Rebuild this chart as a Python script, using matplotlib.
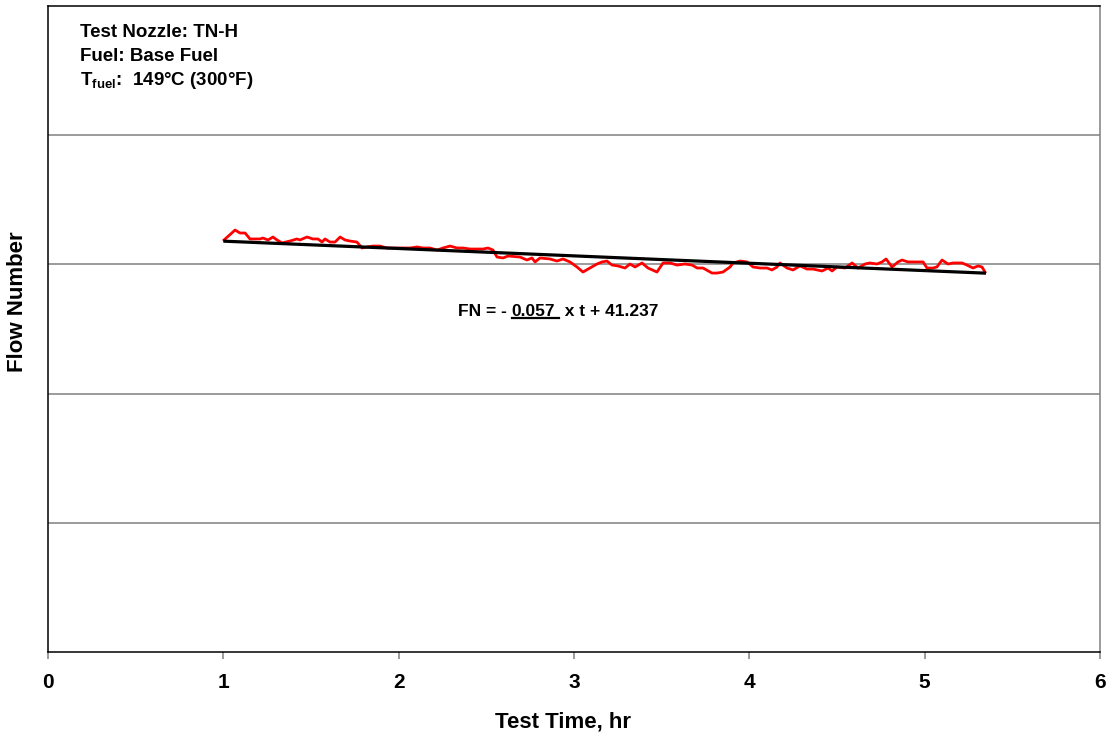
import matplotlib
matplotlib.use("Agg")
import matplotlib.pyplot as plt
from matplotlib.lines import Line2D

plt.rcParams["font.family"] = ["Liberation Sans", "DejaVu Sans"]
plt.rcParams["font.weight"] = "bold"
plt.rcParams["mathtext.fontset"] = "custom"
plt.rcParams["mathtext.bf"] = "Liberation Sans:bold"
plt.rcParams["mathtext.rm"] = "Liberation Sans:bold"

# Measured flow number vs. test time
time_hr = [1.004, 1.067, 1.095, 1.124, 1.152, 1.209, 1.226, 1.255, 1.283, 1.306,
           1.335, 1.380, 1.420, 1.437, 1.477, 1.511, 1.540, 1.563, 1.580, 1.608,
           1.637, 1.666, 1.694, 1.722, 1.762, 1.791, 1.819, 1.854, 1.894, 1.933,
           1.991, 2.065, 2.105, 2.139, 2.179, 2.219, 2.253, 2.293, 2.333, 2.367,
           2.407, 2.447, 2.481, 2.510, 2.538, 2.561, 2.595, 2.624, 2.692, 2.732,
           2.760, 2.778, 2.806, 2.863, 2.903, 2.937, 2.977, 3.017, 3.051, 3.091,
           3.131, 3.160, 3.188, 3.217, 3.251, 3.291, 3.319, 3.348, 3.388, 3.422,
           3.473, 3.508, 3.548, 3.588, 3.633, 3.673, 3.702, 3.736, 3.787, 3.816,
           3.850, 3.890, 3.907, 3.947, 3.987, 4.021, 4.061, 4.101, 4.129, 4.158,
           4.175, 4.215, 4.249, 4.289, 4.329, 4.363, 4.415, 4.449, 4.472, 4.500,
           4.546, 4.586, 4.620, 4.660, 4.688, 4.728, 4.757, 4.780, 4.814, 4.848,
           4.871, 4.905, 4.934, 4.973, 4.991, 5.013, 5.047, 5.070, 5.099, 5.133,
           5.162, 5.213, 5.241, 5.276, 5.304, 5.327, 5.344]
flow_number = [41.189, 41.266, 41.243, 41.243, 41.197, 41.197, 41.204, 41.189, 41.212, 41.189,
               41.166, 41.181, 41.197, 41.189, 41.212, 41.197, 41.197, 41.173, 41.197, 41.173,
               41.173, 41.212, 41.189, 41.181, 41.173, 41.127, 41.135, 41.142, 41.142, 41.127,
               41.127, 41.127, 41.135, 41.127, 41.127, 41.111, 41.127, 41.142, 41.127, 41.127,
               41.119, 41.119, 41.119, 41.127, 41.111, 41.057, 41.050, 41.065, 41.057, 41.034,
               41.050, 41.019, 41.050, 41.042, 41.026, 41.042, 41.019, 40.980, 40.941, 40.972,
               41.003, 41.019, 41.026, 40.995, 40.988, 40.972, 41.003, 40.980, 41.011, 40.972,
               40.941, 41.011, 41.011, 40.995, 41.003, 40.995, 40.972, 40.972, 40.933, 40.933,
               40.941, 40.980, 41.011, 41.026, 41.019, 40.980, 40.972, 40.972, 40.957, 40.980,
               41.011, 40.972, 40.957, 40.988, 40.964, 40.964, 40.949, 40.972, 40.949, 40.980,
               40.972, 41.011, 40.972, 41.003, 41.011, 41.003, 41.019, 41.042, 40.980, 41.019,
               41.034, 41.019, 41.019, 41.019, 41.019, 40.972, 40.972, 40.980, 41.034, 41.003,
               41.011, 41.011, 40.995, 40.972, 40.988, 40.980, 40.941]

# Linear fit: FN = slope * t + intercept
fit_slope = -0.057
fit_intercept = 41.237
fit_range = [1.0, 5.35]

x_ticks = [0, 1, 2, 3, 4, 5, 6]
y_grid = [39, 40, 41, 42]

W, H = 1114, 742
fig = plt.figure(figsize=(W / 100, H / 100), dpi=100)
ax = fig.add_axes([48 / W, 1 - 652 / H, (1100 - 48) / W, (652 - 6) / H])
ax.set_xlim(0, 6)
ax.set_ylim(38, 43)

for g in y_grid:
    ax.axhline(g, color="#808080", lw=1.1, zorder=1)

ax.plot(time_hr, flow_number, color="#ff0000", lw=2.0, zorder=2)
fit_y = [fit_slope * t + fit_intercept for t in fit_range]
ax.plot(fit_range, fit_y, color="black", lw=2.3, zorder=3, solid_capstyle="butt")

ax.set_xticks(x_ticks)
ax.set_xticklabels([str(v) for v in x_ticks], fontsize=15, fontweight="bold")
ax.set_yticks([])
ax.tick_params(axis="x", direction="out", length=5, width=1.1, color="#808080", pad=10)
for side in ["left", "top", "bottom"]:
    ax.spines[side].set_color("black")
    ax.spines[side].set_linewidth(1.1)
ax.spines["right"].set_color("#808080")
ax.spines["right"].set_linewidth(1.1)

# Axis titles
fig.text(563 / W, 1 - 722 / H, "Test Time, hr", fontsize=16, fontweight="bold",
         ha="center", va="center")
fig.text(18 / W, 1 - 302 / H, "Flow Number", fontsize=16, fontweight="bold",
         ha="center", va="center", rotation=90)

# Test condition notes
note_kw = dict(transform=ax.transAxes, fontsize=13.5, fontweight="bold", va="baseline", ha="left")
ax.text(0.030, 0.9515, "Test Nozzle: TN-H", **note_kw)
ax.text(0.030, 0.9155, "Fuel: Base Fuel", **note_kw)
ax.text(0.030, 0.877, r"T$_{\mathbf{fuel}}$:  149°C (300°F)", **note_kw)

# Fit equation with the slope underlined
eq_kw = dict(fontsize=12.5, fontweight="bold", va="baseline")
eq_t, eq_fn = 2.337, 40.598
fig.canvas.draw()
renderer = fig.canvas.get_renderer()
part1 = ax.text(eq_t, eq_fn, "FN = - ", ha="left", **eq_kw)
bb1 = part1.get_window_extent(renderer)
x1 = ax.transData.inverted().transform((bb1.x1, bb1.y0))[0]
part2 = ax.text(x1, eq_fn, "0.057", ha="left", **eq_kw)
bb2 = part2.get_window_extent(renderer)
x2 = ax.transData.inverted().transform((bb2.x1, bb2.y0))[0]
part3 = ax.text(x2, eq_fn, "  x t + 41.237", ha="left", **eq_kw)
ul_y = bb2.y0 + 1
line_start = ax.transData.inverted().transform((bb2.x0, ul_y))
line_end = ax.transData.inverted().transform((bb2.x1 + 4, ul_y))
ax.add_line(Line2D([line_start[0], line_end[0]], [line_start[1], line_end[1]],
                   color="black", lw=1.6))

fig.savefig("out.png", dpi=100)
